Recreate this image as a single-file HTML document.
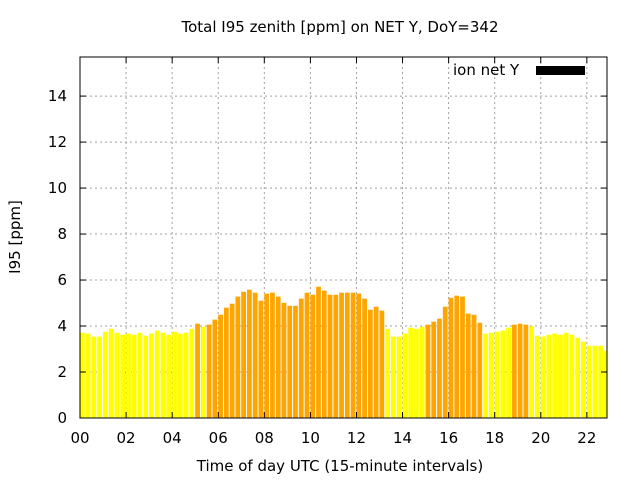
<!DOCTYPE html>
<html><head><meta charset="utf-8"><style>
body{margin:0;background:#fff;}
svg text{font-family:"DejaVu Sans","Liberation Sans",sans-serif;font-size:15px;fill:#000;}
</style></head><body>
<svg id="chart" width="640" height="480" xmlns="http://www.w3.org/2000/svg">
<rect width="640" height="480" fill="#fff"/>
<text x="340" y="32" text-anchor="middle">Total I95 zenith [ppm] on NET Y, DoY=342</text>
<text x="340" y="471" text-anchor="middle">Time of day UTC (15-minute intervals)</text>
<text transform="translate(20,237) rotate(-90)" text-anchor="middle">I95 [ppm]</text>
<g id="grid"></g>
<g id="bars"></g>
<rect x="80" y="57" width="527" height="361" fill="none" stroke="#000" stroke-width="1"/>
<g id="ticks"></g>
<text x="453" y="75">ion net Y</text>
<rect x="536" y="66" width="49" height="9" fill="#000"/>
</svg>
<script>
const values=[3.71,3.67,3.54,3.54,3.75,3.88,3.71,3.62,3.67,3.62,3.71,3.58,3.67,3.80,3.71,3.62,3.75,3.67,3.71,3.88,4.10,3.97,4.06,4.28,4.49,4.80,4.97,5.28,5.49,5.58,5.45,5.10,5.41,5.45,5.28,5.01,4.88,4.88,5.19,5.45,5.36,5.71,5.54,5.36,5.36,5.45,5.45,5.45,5.41,5.19,4.71,4.84,4.67,3.88,3.54,3.54,3.67,3.93,3.88,3.97,4.06,4.19,4.32,4.84,5.23,5.32,5.28,4.54,4.49,4.14,3.67,3.71,3.75,3.80,3.93,4.06,4.10,4.06,3.99,3.58,3.54,3.62,3.67,3.62,3.71,3.62,3.49,3.32,3.14,3.14,3.14,2.93];
const yTicks=[0,2,4,6,8,10,12,14];
const xTickLabels=["00","02","04","06","08","10","12","14","16","18","20","22"];
const threshold=4.0;
const NS="http://www.w3.org/2000/svg";
const X0=80,X1=607,Y0=418,Y1=57,YMAX=15.7,XMAX=91.5;
const xs=i=>X0+i*(X1-X0)/XMAX;
const ys=v=>Y0-v*(Y0-Y1)/YMAX;
function mk(tag,attrs,parent){const e=document.createElementNS(NS,tag);for(const k in attrs)e.setAttribute(k,attrs[k]);parent.appendChild(e);return e;}
const grid=document.getElementById('grid'),bars=document.getElementById('bars'),ticks=document.getElementById('ticks');
yTicks.forEach(t=>{const y=ys(t);
 if(t>0){const g=mk('line',{x1:X0,x2:X1,y1:y,y2:y,stroke:'#a0a0a0','stroke-dasharray':'2,3'},grid);
 
 }
 mk('line',{x1:X0,x2:X0+6,y1:y,y2:y,stroke:'#000'},ticks);
 mk('line',{x1:X1-6,x2:X1,y1:y,y2:y,stroke:'#000'},ticks);
 const l=mk('text',{x:67,y:y+5,'text-anchor':'end'},ticks);l.textContent=t;
 
 
});
xTickLabels.forEach((lab,k)=>{const x=xs(k*8);
 if(k>0){const g=mk('line',{x1:x,x2:x,y1:Y1,y2:Y0,stroke:'#a0a0a0','stroke-dasharray':'2,3'},grid);
 
 }
 mk('line',{x1:x,x2:x,y1:Y0,y2:Y0-6,stroke:'#000'},ticks);
 mk('line',{x1:x,x2:x,y1:Y1,y2:Y1+6,stroke:'#000'},ticks);
 const l=mk('text',{x:x,y:443,'text-anchor':'middle'},ticks);l.textContent=lab;
 
 
});
values.forEach((v,i)=>{const x=xs(i);let w=xs(i+1)-x-1;if(x+w>X1)w=X1-x;
 const r=mk('rect',{x:x,y:ys(v),width:Math.max(w,0),height:Y0-ys(v),fill:v>threshold?'#ffa500':'#ffff00'},bars);
 
 
});
</script>
</body></html>
